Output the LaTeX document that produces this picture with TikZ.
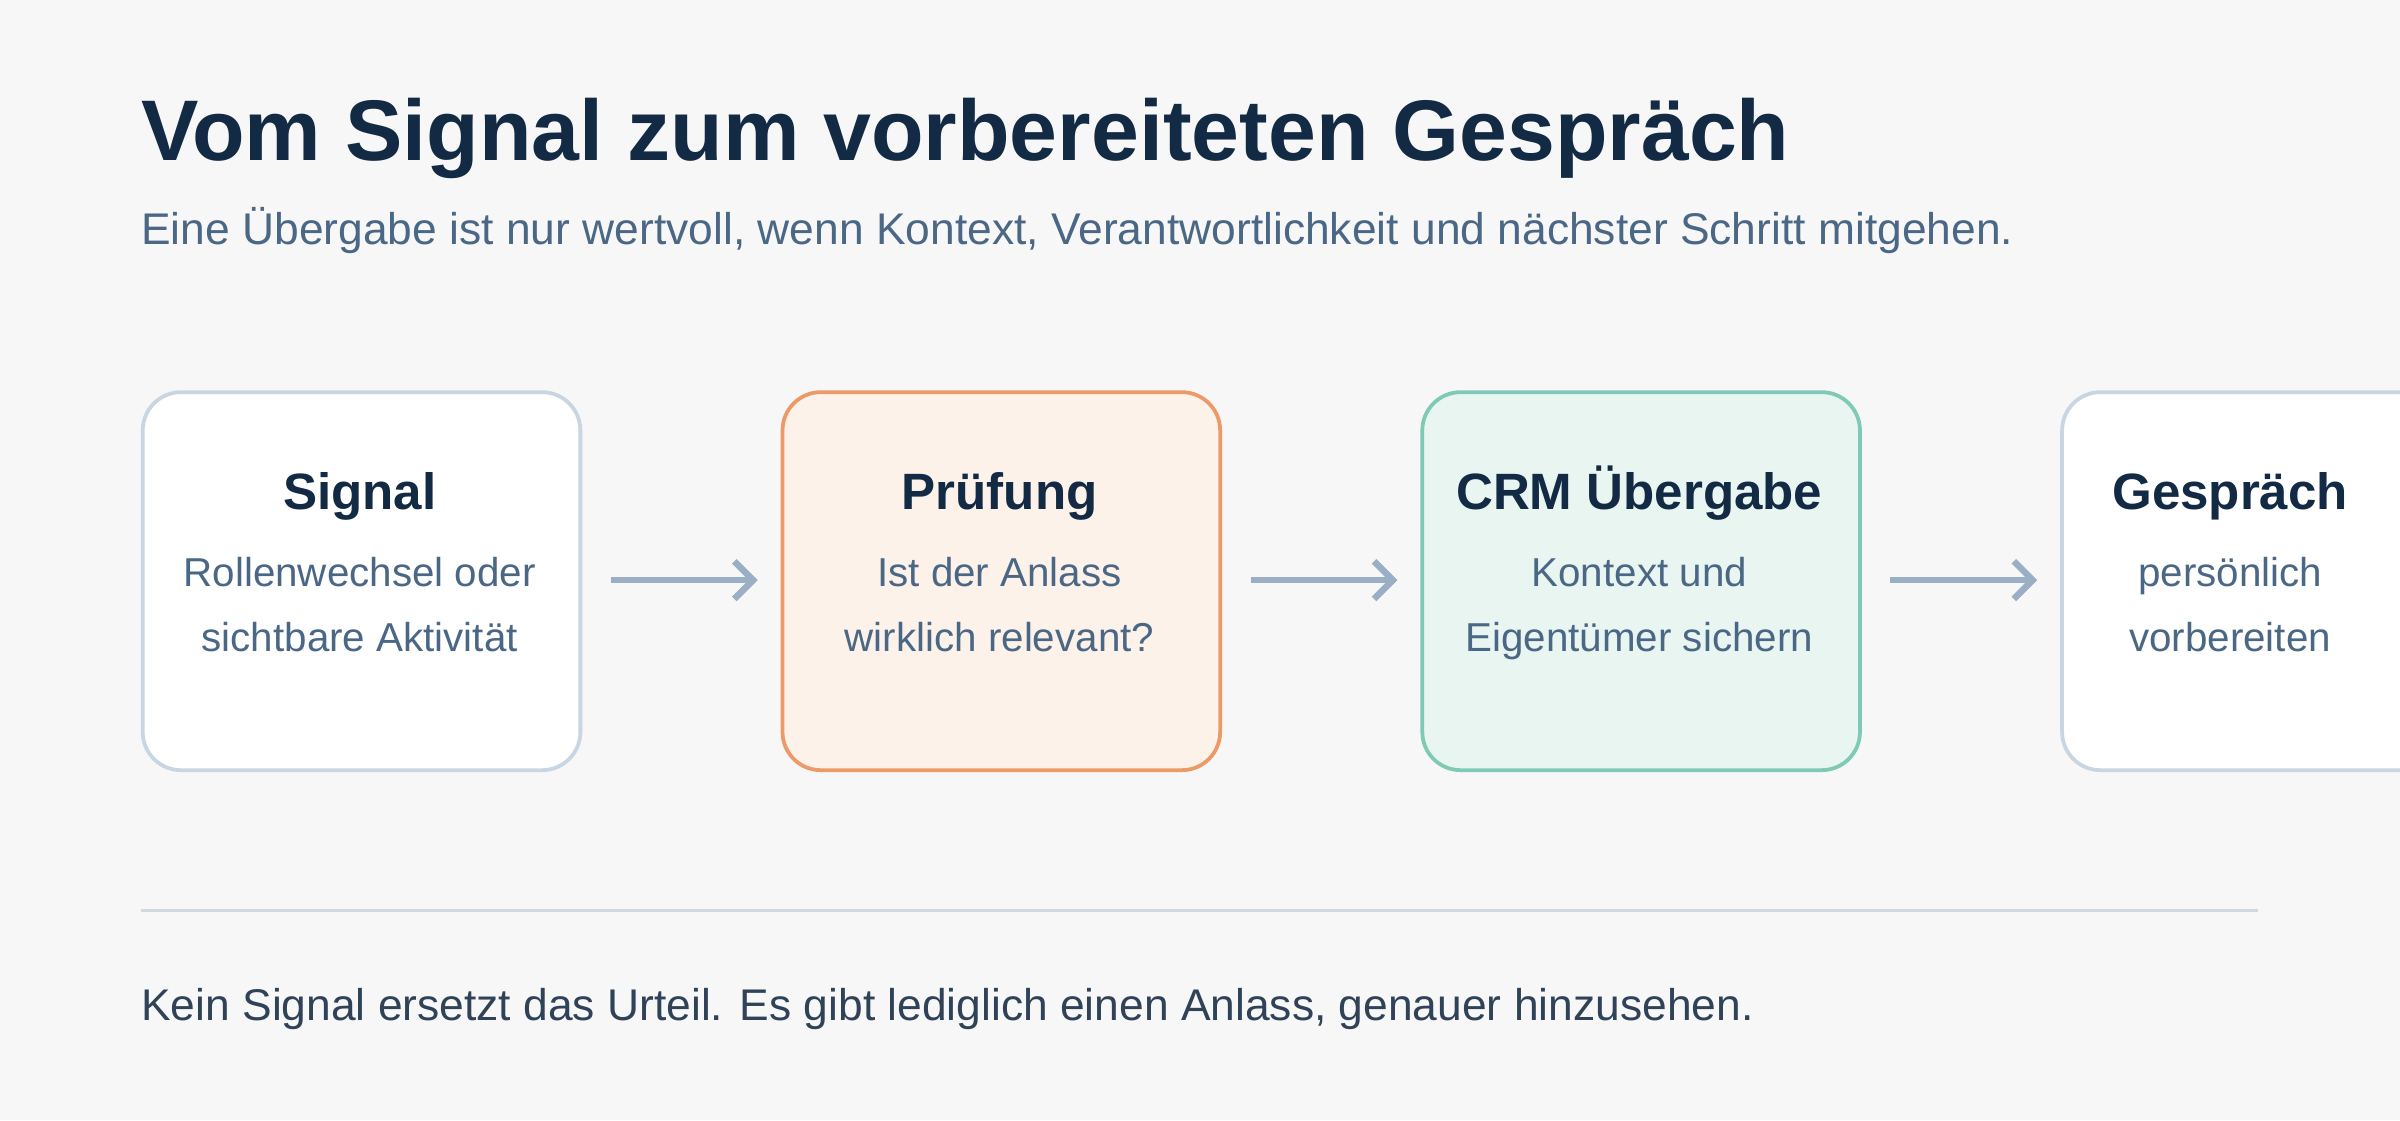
\documentclass[tikz,border=0pt]{standalone}
\usepackage{fontspec}
\setmainfont{Liberation Sans}
\usetikzlibrary{arrows.meta}
\definecolor{bg}{HTML}{F7F7F7}
\definecolor{navy}{HTML}{132A45}
\definecolor{sub}{HTML}{4A6785}
\definecolor{bord}{HTML}{C8D6E2}
\definecolor{orb}{HTML}{EC9A67}
\definecolor{orf}{HTML}{FDF2EA}
\definecolor{grb}{HTML}{7FCAB5}
\definecolor{grf}{HTML}{E8F5F1}
\definecolor{arr}{HTML}{9AAFC4}
\definecolor{rule}{HTML}{CFD8DC}
\definecolor{foot}{HTML}{2F4257}
\begin{document}
\begin{tikzpicture}[x=0.02cm,y=-0.02cm,
  box/.style={draw=bord,fill=white,line width=1.4pt,rounded corners=0.5cm,minimum width=5.72cm,minimum height=4.94cm,anchor=north west},
  ttl/.style={font=\fontsize{19}{23}\selectfont\bfseries,text=navy},
  body/.style={font=\fontsize{15}{24}\selectfont,text=sub,align=center},
  flow/.style={draw=arr,line width=2.4pt,-{Straight Barb[length=7pt,width=14pt,line width=2.4pt]}}]
\fill[bg] (0,0) rectangle (1568,732);
\useasboundingbox (0,0) rectangle (1568,732);
\node[anchor=base west,inner sep=0,font=\fontsize{32}{38}\selectfont\bfseries,text=navy] (title) at (92,105) {Vom Signal zum vorbereiteten Gespräch};
\node[anchor=base west,inner sep=0,font=\fontsize{16.5}{20}\selectfont,text=sub] (subt) at (92,160) {Eine Übergabe ist nur wertvoll, wenn Kontext, Verantwortlichkeit und nächster Schritt mitgehen.};
\node[box] (b1) at (92,255) {};
\node[box,draw=orb,fill=orf] (b2) at (510,255) {};
\node[box,draw=grb,fill=grf] (b3) at (928,255) {};
\node[box] (b4) at (1346,255) {};
\node[ttl,anchor=base] (t1) at (235,333) {Signal};
\node[body,anchor=north] (d1) at (235,358) {Rollenwechsel oder\\sichtbare Aktivität};
\node[ttl,anchor=base] (t2) at (653,333) {Prüfung};
\node[body,anchor=north] (d2) at (653,358) {Ist der Anlass\\wirklich relevant?};
\node[ttl,anchor=base] (t3) at (1071,333) {CRM Übergabe};
\node[body,anchor=north] (d3) at (1071,358) {Kontext und\\Eigentümer sichern};
\node[ttl,anchor=base] (t4) at (1457,333) {Gespräch};
\node[body,anchor=north] (d4) at (1457,358) {persönlich\\vorbereiten};
\coordinate (a1s) at (399,379); \coordinate (a1e) at (495,379);
\coordinate (a2s) at (817,379); \coordinate (a2e) at (913,379);
\coordinate (a3s) at (1235,379); \coordinate (a3e) at (1331,379);
\draw[flow] (a1s) -- (a1e);
\draw[flow] (a2s) -- (a2e);
\draw[flow] (a3s) -- (a3e);
\coordinate (r1) at (92,595); \coordinate (r2) at (1475,595);
\draw[rule,line width=1pt] (r1) -- (r2);
\node[anchor=base west,inner sep=0,font=\fontsize{16.5}{20}\selectfont,text=foot] (ft) at (92,667) {Kein Signal ersetzt das Urteil. Es gibt lediglich einen Anlass, genauer hinzusehen.};
\end{tikzpicture}
\end{document}
